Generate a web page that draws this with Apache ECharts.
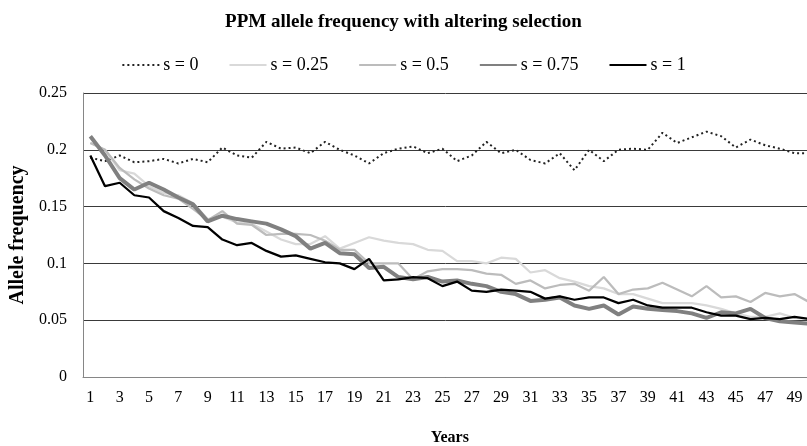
<!DOCTYPE html>
<html>
<head>
<meta charset="utf-8">
<script src="https://cdn.jsdelivr.net/npm/echarts@6/dist/echarts.min.js"></script>
<style>
html,body{margin:0;padding:0;background:#fff;}
#chart{width:807px;height:446px;}
</style>
</head>
<body>
<div id="chart"></div>
<script>
const years = Array.from({length: 50}, (_, i) => String(i + 1));
const seriesNames = ['s = 0', 's = 0.25', 's = 0.5', 's = 0.75', 's = 1'];
const s0 = [0.193,0.190,0.195,0.189,0.190,0.192,0.188,0.192,0.189,0.202,0.195,0.193,0.207,0.201,0.202,0.197,0.207,0.200,0.195,0.188,0.197,0.201,0.203,0.197,0.201,0.190,0.195,0.207,0.197,0.200,0.191,0.188,0.197,0.182,0.200,0.190,0.200,0.201,0.200,0.215,0.206,0.211,0.216,0.212,0.202,0.209,0.204,0.201,0.197,0.197];
const s025 = [0.206,0.200,0.182,0.179,0.168,0.162,0.160,0.153,0.139,0.141,0.136,0.135,0.128,0.121,0.117,0.117,0.124,0.113,0.118,0.123,0.120,0.118,0.117,0.112,0.111,0.102,0.102,0.100,0.105,0.104,0.092,0.094,0.087,0.084,0.080,0.078,0.073,0.073,0.069,0.065,0.065,0.065,0.063,0.060,0.056,0.053,0.053,0.056,0.052,0.051];
const s05 = [0.206,0.200,0.184,0.174,0.166,0.160,0.157,0.148,0.138,0.146,0.135,0.134,0.125,0.126,0.126,0.125,0.120,0.112,0.112,0.100,0.100,0.100,0.086,0.093,0.095,0.095,0.094,0.091,0.090,0.082,0.085,0.078,0.081,0.082,0.076,0.088,0.073,0.077,0.078,0.083,0.077,0.071,0.080,0.070,0.071,0.066,0.074,0.071,0.073,0.066];
const s075 = [0.212,0.195,0.175,0.165,0.171,0.165,0.158,0.152,0.137,0.142,0.139,0.137,0.135,0.130,0.124,0.113,0.118,0.109,0.108,0.096,0.097,0.088,0.086,0.088,0.084,0.085,0.082,0.080,0.075,0.073,0.067,0.068,0.070,0.063,0.060,0.063,0.055,0.062,0.060,0.059,0.058,0.056,0.052,0.057,0.056,0.060,0.052,0.049,0.048,0.047];
const s1 = [0.195,0.168,0.171,0.160,0.158,0.146,0.140,0.133,0.132,0.121,0.116,0.118,0.111,0.106,0.107,0.104,0.101,0.100,0.095,0.104,0.085,0.086,0.088,0.087,0.080,0.084,0.076,0.075,0.077,0.076,0.075,0.069,0.071,0.068,0.070,0.070,0.065,0.068,0.063,0.061,0.061,0.061,0.057,0.054,0.054,0.051,0.052,0.051,0.053,0.051];
const yTicks = ['0', '0.05', '0.1', '0.15', '0.2', '0.25'];

const font = 'Liberation Serif';
const chart = echarts.init(document.getElementById('chart'), null, {renderer: 'canvas'});
function mk(name, data, color, width, type) {
  return {
    name: name, type: 'line', data: data, symbol: 'none', smooth: false,
    lineStyle: {color: color, width: width, type: type || 'solid'},
    itemStyle: {color: color},
    emphasis: {disabled: true}, animation: false
  };
}
chart.setOption({
  animation: false,
  title: {
    text: 'PPM allele frequency with altering selection',
    left: 'center', top: 8,
    textStyle: {fontFamily: font, fontSize: 19, fontWeight: 'bold', color: '#000'}
  },
  legend: {
    top: 51, left: 'center',
    itemWidth: 37, itemHeight: 18, itemGap: 30,
    itemStyle: {opacity: 0},
    textStyle: {fontFamily: font, fontSize: 18, color: '#000', padding: [0, 0, 0, -1]},
    data: seriesNames
  },
  grid: {left: 83, top: 93, height: 284, width: 733.5, containLabel: false, outerBoundsMode: 'none'},
  xAxis: {
    type: 'category', data: years, boundaryGap: true,
    name: 'Years', nameLocation: 'middle', nameGap: 53,
    nameTextStyle: {fontFamily: font, fontSize: 16, fontWeight: 'bold', color: '#000'},
    axisLine: {lineStyle: {color: '#868686', width: 1}},
    axisTick: {show: false},
    axisLabel: {interval: 1, fontFamily: font, fontSize: 16, color: '#000', margin: 13},
    splitLine: {show: false}
  },
  yAxis: {
    type: 'value', min: 0, max: 0.25, interval: 0.05,
    name: 'Allele frequency', nameLocation: 'middle', nameGap: 48, nameRotate: 90,
    nameTextStyle: {fontFamily: font, fontSize: 20, fontWeight: 'bold', color: '#000'},
    axisLine: {show: true, lineStyle: {color: '#868686', width: 1}},
    axisTick: {show: false},
    axisLabel: {fontFamily: font, fontSize: 16, color: '#000', margin: 16,
      formatter: function (v) { return yTicks[Math.round(v / 0.05)]; }},
    splitLine: {show: true, lineStyle: {color: '#3a3a3a', width: 1}}
  },
  series: [
    mk(seriesNames[0], s0, '#222222', 2, [2, 3]),
    mk(seriesNames[1], s025, '#d9d9d9', 2.25),
    mk(seriesNames[2], s05, '#bcbcbc', 2.25),
    mk(seriesNames[3], s075, '#808080', 4),
    mk(seriesNames[4], s1, '#000000', 2.25)
  ]
});
</script>
</body>
</html>
